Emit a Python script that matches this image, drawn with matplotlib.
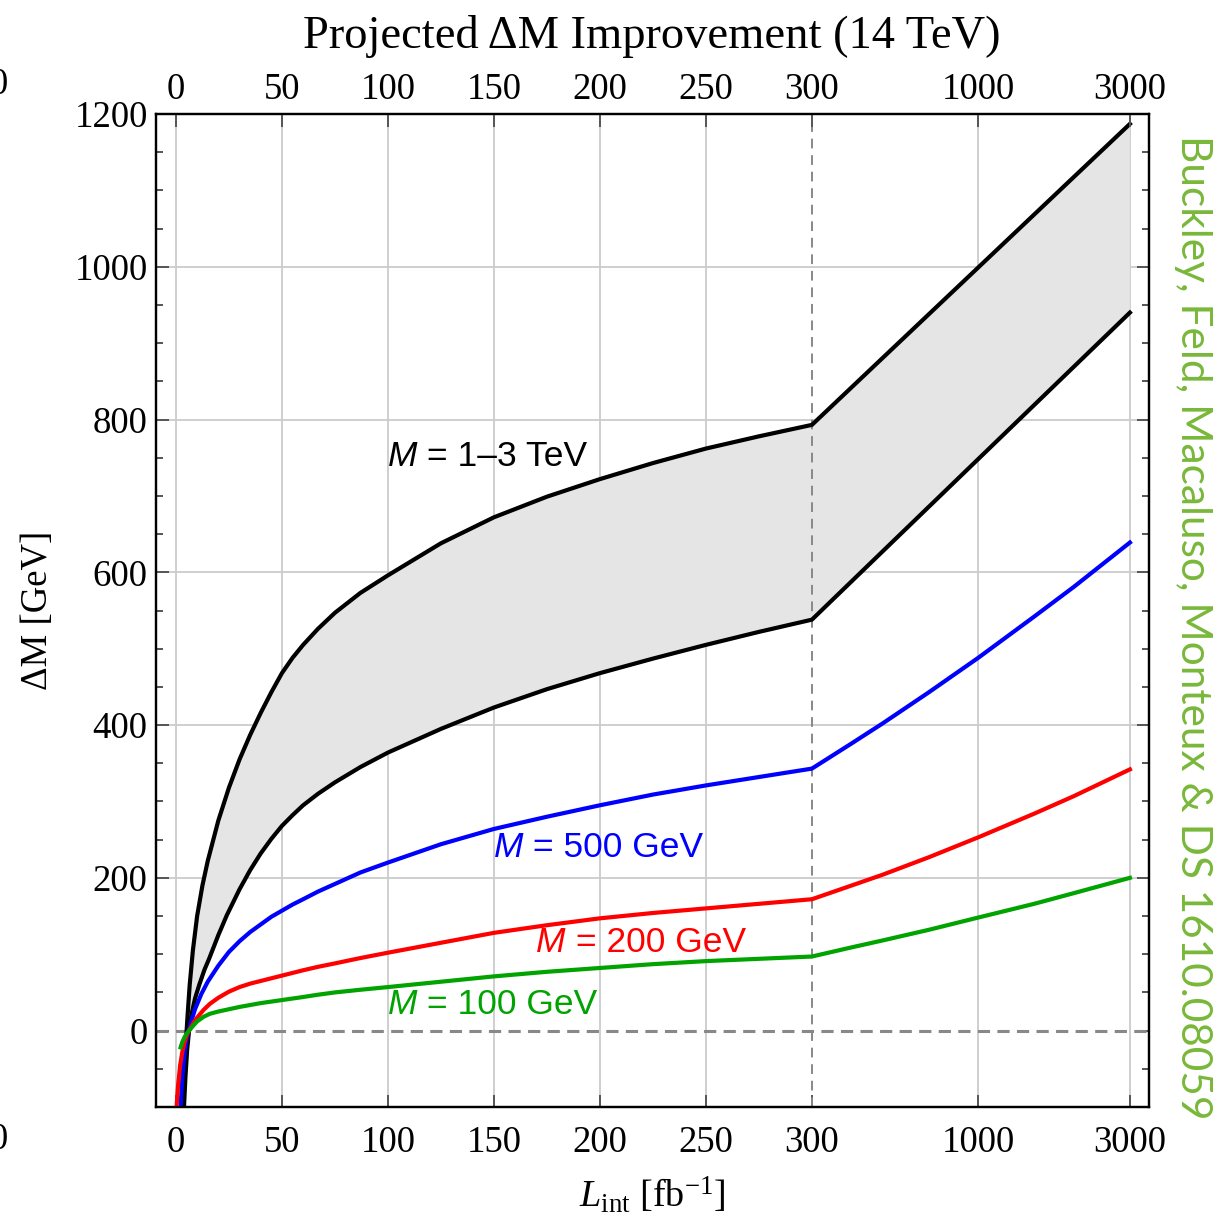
import numpy as np
import matplotlib
matplotlib.use("Agg")
import matplotlib.pyplot as plt
from matplotlib.ticker import FixedLocator, MultipleLocator, NullLocator

# ---- values (L in fb^-1, dM in GeV) ----
L_up = [3.3, 4, 4.7, 5.5, 6.5, 8, 10, 12.5, 15, 20, 25, 30, 35, 40, 45, 50, 55, 60, 67, 75,
        87, 100, 125, 150, 175, 200, 225, 250, 275, 300, 3000]
dM_up = [-100, -55, -15, 20, 60, 105, 150, 190, 222, 275, 318, 355, 387, 416, 443, 468, 488, 505, 526, 547,
         573, 596, 638, 672, 699, 722, 743, 762, 778, 793, 1187]

L_lo = [3.8, 4.5, 5.3, 6.2, 7.5, 9, 11, 13.5, 15.5, 20, 24, 30, 35, 40, 45, 50, 55, 60, 67, 75,
        87, 100, 125, 150, 175, 200, 225, 250, 275, 300, 3000]
dM_lo = [-100, -60, -25, 0, 23, 42, 60, 80, 93, 125, 151, 185, 210, 232, 251, 268, 282, 295, 310, 325,
         345, 364, 395, 423, 447, 468, 487, 505, 522, 538, 940]

L_500 = [2.2, 2.8, 3.5, 4.5, 5.5, 7, 9, 12, 15, 20, 25, 30, 35, 40, 45, 50, 55, 60, 67, 75,
         87, 100, 125, 150, 175, 200, 225, 250, 275, 300,
         400, 500, 700, 1000, 1500, 2000, 3000]
dM_500 = [-100, -70, -45, -20, -5, 10, 28, 48, 64, 85, 103, 117, 129, 139, 149, 157, 165, 172, 182, 192,
          207, 220, 244, 264, 280, 295, 309, 321, 332, 343,
          376, 402, 443, 488, 542, 581, 639]

L_200 = [0.3, 1, 2, 3, 4, 5, 6.5, 8, 10, 13, 16, 20, 25, 30, 35, 40, 45, 50, 55, 60, 67, 75,
         87, 100, 125, 150, 175, 200, 225, 250, 275, 300,
         400, 500, 700, 1000, 1500, 2000, 3000]
dM_200 = [-100, -72, -45, -28, -16, -7, 2, 9, 17, 27, 35, 43, 51, 57, 61.5, 65, 68.5, 72, 75.5, 79, 83.5, 88,
          95, 102, 115, 128, 138, 147, 154, 160, 166, 172,
          190, 204, 227, 253, 284, 307, 342]

L_100 = [2.2, 3, 4, 5, 6.5, 8, 10, 13, 16, 20, 25, 30, 35, 40, 45, 50, 55, 60, 67, 75,
         87, 100, 125, 150, 175, 200, 225, 250, 275, 300,
         400, 500, 700, 1000, 1500, 2000, 3000]
dM_100 = [-22, -15, -9, -4, 1, 6, 12, 18, 22, 25, 28, 31, 33.5, 36, 38, 40, 42, 44, 47, 50,
          53.5, 57, 64, 71, 77, 82, 87, 91, 94, 97,
          109, 118, 132, 148, 166, 180, 200]

x_ticks = [0, 50, 100, 150, 200, 250, 300, 1000, 3000]
y_ticks = [0, 200, 400, 600, 800, 1000, 1200]

labels = [("M", " = 1\u20133 TeV", 100, 751, "black"),
          ("M", " = 500 GeV", 150, 240, "blue"),
          ("M", " = 200 GeV", 170, 116, "red"),
          ("M", " = 100 GeV", 100, 34, "#00a300")]

plt.rcParams["font.family"] = "Liberation Serif"
plt.rcParams["mathtext.fontset"] = "custom"
plt.rcParams["mathtext.rm"] = "Liberation Serif"
plt.rcParams["mathtext.it"] = "Liberation Serif:italic"


# linear up to 300 fb^-1, then logarithmic (150 units per decade)
def fwd(x):
    x = np.asarray(x, dtype=float)
    return np.where(x <= 300, x, 300 + 150 * np.log10(np.maximum(x, 300) / 300))


def inv(t):
    t = np.asarray(t, dtype=float)
    return np.where(t <= 300, t, 300 * 10 ** ((np.maximum(t, 300) - 300) / 150))


W, H = 1217, 1218
fig = plt.figure(figsize=(W / 100, H / 100), dpi=100)
ax = fig.add_axes([156 / W, 1 - 1107 / H, (1149 - 156) / W, (1107 - 114) / H])
ax.set_xscale("function", functions=(fwd, inv))
ax.set_xlim(-9.4, 3445)
ax.set_ylim(-100, 1200)

grid_kw = dict(color="#cccccc", lw=1.3, zorder=0)
for gx in x_ticks:
    if gx != 300:
        ax.axvline(gx, **grid_kw)
for gy in y_ticks:
    if gy != 0:
        ax.axhline(gy, **grid_kw)

ax.fill(np.r_[L_up, L_lo[::-1]], np.r_[dM_up, dM_lo[::-1]],
        color="#e5e5e5", lw=0, zorder=1)
ax.axhline(0, color="#888888", lw=2.2, ls=(0, (4, 2.4)), zorder=2)
ax.axvline(300, color="#888888", lw=1.4, ls=(0, (5, 3.5)), zorder=2)

lw = 3.0
ax.plot(L_up, dM_up, color="black", lw=lw, zorder=3)
ax.plot(L_lo, dM_lo, color="black", lw=lw, zorder=3)
ax.plot(L_500, dM_500, color="blue", lw=lw, zorder=3)
ax.plot(L_200, dM_200, color="red", lw=lw, zorder=3)
ax.plot(L_100, dM_100, color="#00a300", lw=lw, zorder=4)

for m, rest, lx, ly, c in labels:
    t = ax.text(lx, ly, m, color=c, style="italic", family="Liberation Sans",
                fontsize=25.5, ha="left", va="center", zorder=5)
    ax.annotate(rest, xy=(1, 0.5), xycoords=t, color=c, family="Liberation Sans",
                fontsize=25.5, ha="left", va="center", zorder=5)

tick_kw = dict(which="both", direction="in", color="#555555", width=1.4, labelsize=26.5)
ax.xaxis.set_major_locator(FixedLocator(x_ticks))
ax.xaxis.set_minor_locator(NullLocator())
ax.set_xticklabels([str(v) for v in x_ticks])
ax.yaxis.set_major_locator(FixedLocator(y_ticks))
ax.yaxis.set_minor_locator(MultipleLocator(50))
ax.tick_params(top=False, right=True, **tick_kw)
ax.tick_params(which="major", length=9)
ax.tick_params(which="minor", length=5)
ax.tick_params(axis="x", pad=13)
ax.tick_params(axis="y", pad=6)

# top axis carries the same L scale
ax2 = ax.twiny()
ax2.set_xscale("function", functions=(fwd, inv))
ax2.set_xlim(ax.get_xlim())
ax2.xaxis.set_major_locator(FixedLocator(x_ticks))
ax2.xaxis.set_minor_locator(NullLocator())
ax2.set_xticklabels([str(v) for v in x_ticks])
ax2.tick_params(axis="x", length=9, pad=5, **tick_kw)

for a in (ax, ax2):
    for s in a.spines.values():
        s.set_linewidth(1.6)

fig.text(652 / W, 1 - 37 / H, "Projected \u0394M Improvement (14 TeV)",
         ha="center", va="center", fontsize=33.5)
fig.text(652 / W, 1 - 1195 / H, r"$L_{\mathrm{int}}$ [fb$^{-1}$]",
         ha="center", va="center", fontsize=27.5)
fig.text(38 / W, 1 - 610 / H, "\u0394M [GeV]", rotation=90,
         ha="center", va="center", fontsize=26.5)
fig.text(1193 / W, 1 - 627 / H, "Buckley, Feld, Macaluso, Monteux & DS 1610.08059",
         rotation=-90, ha="center", va="center", fontsize=30.5,
         family="Lato", color="#79b83a")
# clipped tick labels of the neighbouring panel
fig.text(8 / W, 1 - 85 / H, "0", ha="right", va="center", fontsize=26.5)
fig.text(8 / W, 1 - 1140 / H, "0", ha="right", va="center", fontsize=26.5)

fig.savefig("out.png", dpi=100)
